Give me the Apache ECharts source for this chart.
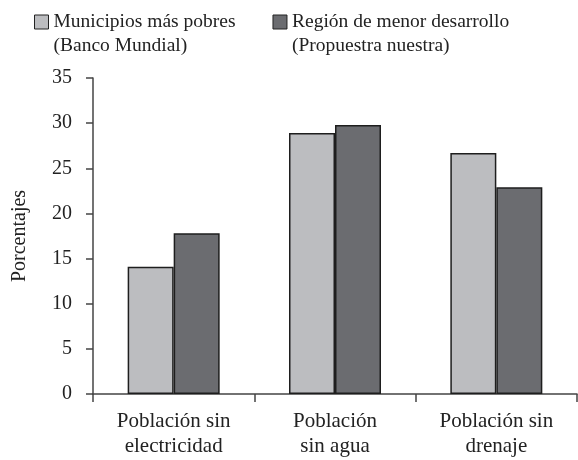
<!DOCTYPE html>
<html>
<head>
<meta charset="utf-8">
<script src="https://cdn.jsdelivr.net/npm/echarts@6/dist/echarts.min.js"></script>
<style>
  html, body { margin: 0; padding: 0; background: #fff; }
  #chart { width: 578px; height: 460px; }
</style>
</head>
<body>
<div id="chart"></div>
<script>
// categorias y valores
const categorias = ['Población sin\nelectricidad', 'Población\nsin agua', 'Población sin\ndrenaje'];
const municipiosPobres = [14.1, 28.9, 26.7];
const regionMenorDesarrollo = [17.8, 29.8, 22.9];
const nombresSeries = ['Municipios más pobres\n(Banco Mundial)', 'Región de menor desarrollo\n(Propuestra nuestra)'];
const ticksY = { min: 0, max: 35, interval: 5 };

const fuente = 'Liberation Serif';
const chart = echarts.init(document.getElementById('chart'));

// cuadrito arriba, para que quede a la altura de la primera linea
const iconoLeyenda = 'path://M0,0H14V14H0Z M0,38';

const option = {
  animation: false,
  textStyle: { fontFamily: fuente, color: '#222' },
  legend: {
    left: 29,
    top: 5,
    itemWidth: 14,
    itemHeight: 38,
    itemGap: 37,
    icon: iconoLeyenda,
    selectedMode: false,
    textStyle: {
      fontFamily: fuente,
      fontSize: 19.5,
      color: '#222',
      lineHeight: 24
    },
    itemStyle: { borderColor: '#222', borderWidth: 1 }
  },
  grid: { left: 93, right: 1, top: 78, bottom: 66, outerBoundsMode: 'none' },
  xAxis: {
    type: 'category',
    data: categorias,
    axisLine: { lineStyle: { color: '#444', width: 1.5 } },
    axisTick: { show: true, length: 8, interval: 0, lineStyle: { color: '#444', width: 1.5 } },
    axisLabel: {
      interval: 0,
      margin: 15,
      fontFamily: fuente,
      fontSize: 21,
      lineHeight: 25,
      color: '#222'
    }
  },
  yAxis: {
    type: 'value',
    min: ticksY.min,
    max: ticksY.max,
    interval: ticksY.interval,
    name: 'Porcentajes',
    nameLocation: 'middle',
    nameGap: 63,
    nameTextStyle: { fontFamily: fuente, fontSize: 20, color: '#222' },
    axisLine: { show: true, lineStyle: { color: '#444', width: 1.5 } },
    axisTick: { show: true, length: 7, lineStyle: { color: '#444', width: 1.5 } },
    splitLine: { show: false },
    axisLabel: { margin: 21, fontFamily: fuente, fontSize: 20, color: '#222' }
  },
  series: [
    {
      name: nombresSeries[0],
      type: 'bar',
      data: municipiosPobres,
      barWidth: 46,
      barGap: '0%',
      itemStyle: { color: '#bcbdc0', borderColor: '#1e1e1e', borderWidth: 1.5 }
    },
    {
      name: nombresSeries[1],
      type: 'bar',
      data: regionMenorDesarrollo,
      barWidth: 46,
      barGap: '0%',
      itemStyle: { color: '#6b6c70', borderColor: '#1e1e1e', borderWidth: 1.5 }
    }
  ]
};

chart.setOption(option);
</script>
</body>
</html>
